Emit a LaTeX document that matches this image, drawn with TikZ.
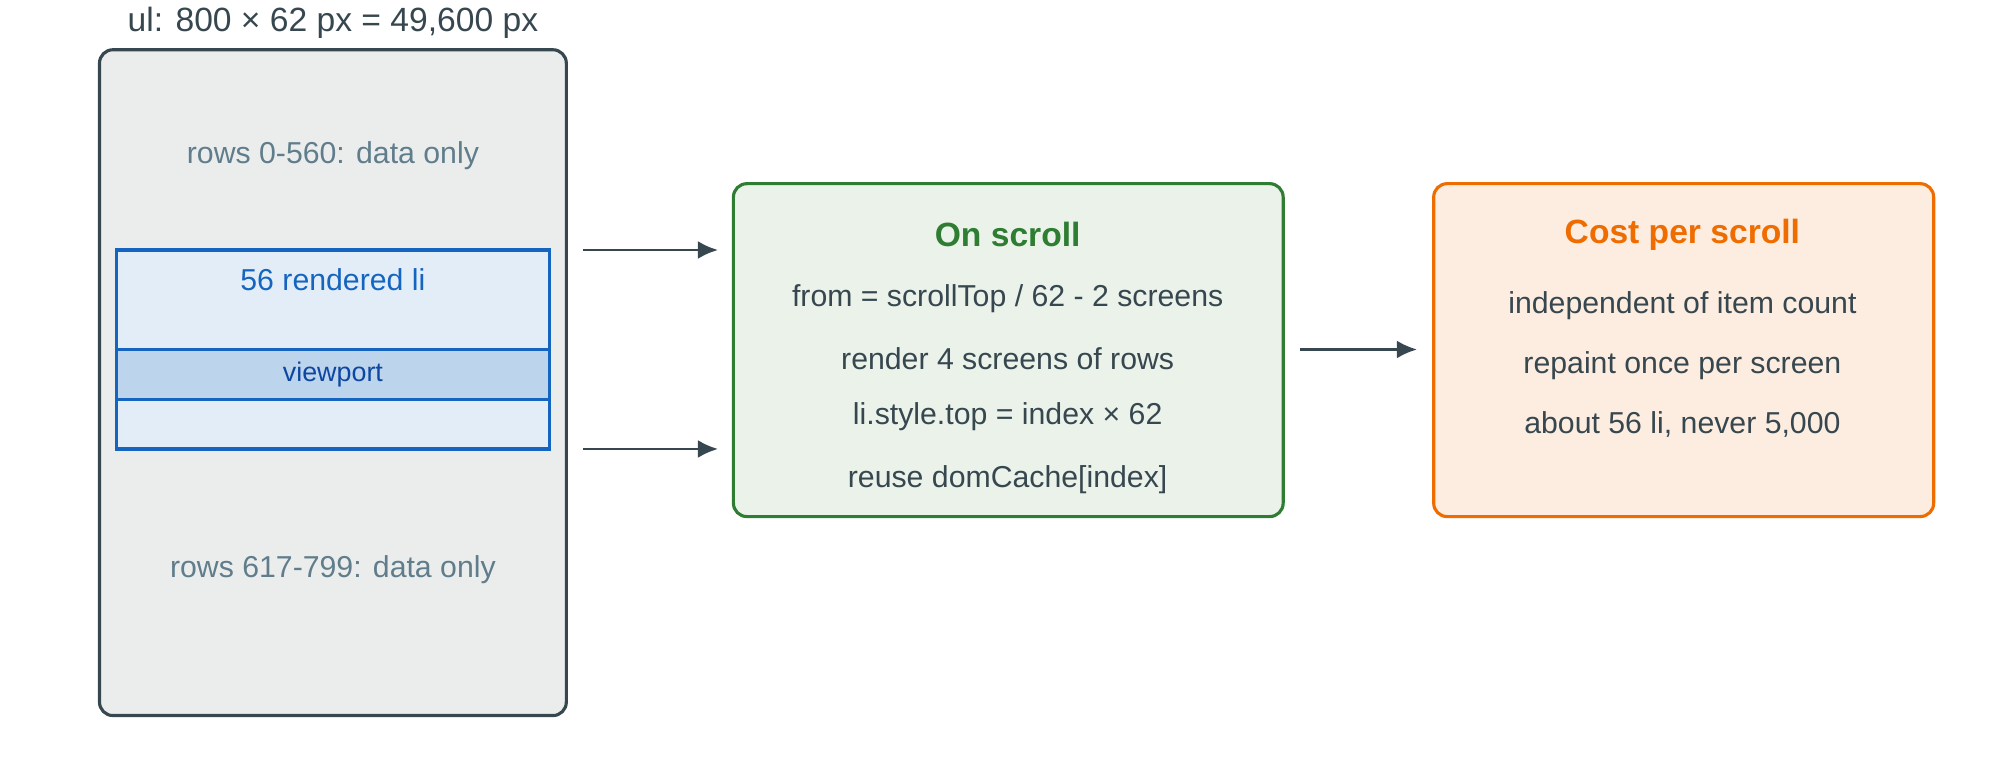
\documentclass[tikz,border=0pt]{standalone}
\usepackage{fontspec}
\setmainfont{Liberation Sans}
\usetikzlibrary{arrows.meta}
\definecolor{dk}{HTML}{37474F}
\definecolor{gr}{HTML}{607D8B}
\definecolor{bl}{HTML}{1565C0}
\definecolor{bld}{HTML}{0D47A1}
\definecolor{grn}{HTML}{2E7D32}
\definecolor{org}{HTML}{EF6C00}
\tikzset{
 box/.style={rounded corners=6pt, line width=1.4pt},
 txt/.style={font=\fontsize{13.5pt}{15pt}\selectfont, text=dk},
 ttl/.style={font=\fontsize{15pt}{17pt}\selectfont\bfseries},
 arr/.style={-{Latex[length=9pt,width=8pt]}, line width=1.3pt, draw=dk}
}
\begin{document}
\begin{tikzpicture}[x=0.02cm,y=-0.02cm]
\useasboundingbox (0,0) rectangle (1568,601);
\node[txt,font=\fontsize{15pt}{17pt}\selectfont] (title) at (261,18) {ul: 800 × 62 px = 49,600 px};
\draw[box, fill=dk!10, draw=dk] (78,39) rectangle (444,561);
\node[txt,text=gr] (r1) at (261,122) {rows 0-560: data only};
\node[txt,text=gr] (r2) at (261,447) {rows 617-799: data only};
\fill[bl!12] (91,196) rectangle (431,352);
\fill[bl!28] (91,274) rectangle (431,313);
\draw[bl, line width=1.4pt] (91,196) rectangle (431,352) (91,274) -- (431,274) (91,313) -- (431,313);
\node[txt,text=bl] (ren) at (261,219) {56 rendered li};
\node[txt,text=bld,font=\fontsize{12pt}{14pt}\selectfont] (vp) at (261,294) {viewport};
\coordinate (a1) at (457,196); \coordinate (b1) at (563,196);
\coordinate (a2) at (457,352); \coordinate (b2) at (563,352);
\coordinate (a3) at (1019,274); \coordinate (b3) at (1111,274);
\draw[arr] (a1) -- (b1);
\draw[arr] (a2) -- (b2);
\draw[arr] (a3) -- (b3);
\draw[box, fill=grn!10, draw=grn] (575,144) rectangle (1006,405);
\node[ttl,text=grn] (g0) at (790,184) {On scroll};
\node[txt] (g1) at (790,234) {from = scrollTop / 62 - 2 screens};
\node[txt] (g2) at (790,281) {render 4 screens of rows};
\node[txt] (g3) at (790,327) {li.style.top = index × 62};
\node[txt] (g4) at (790,376) {reuse domCache[index]};
\draw[box, fill=org!12, draw=org] (1124,144) rectangle (1516,405);
\node[ttl,text=org] (o0) at (1319,184) {Cost per scroll};
\node[txt] (o1) at (1319,240) {independent of item count};
\node[txt] (o2) at (1319,287) {repaint once per screen};
\node[txt] (o3) at (1319,333) {about 56 li, never 5,000};
\end{tikzpicture}
\end{document}
